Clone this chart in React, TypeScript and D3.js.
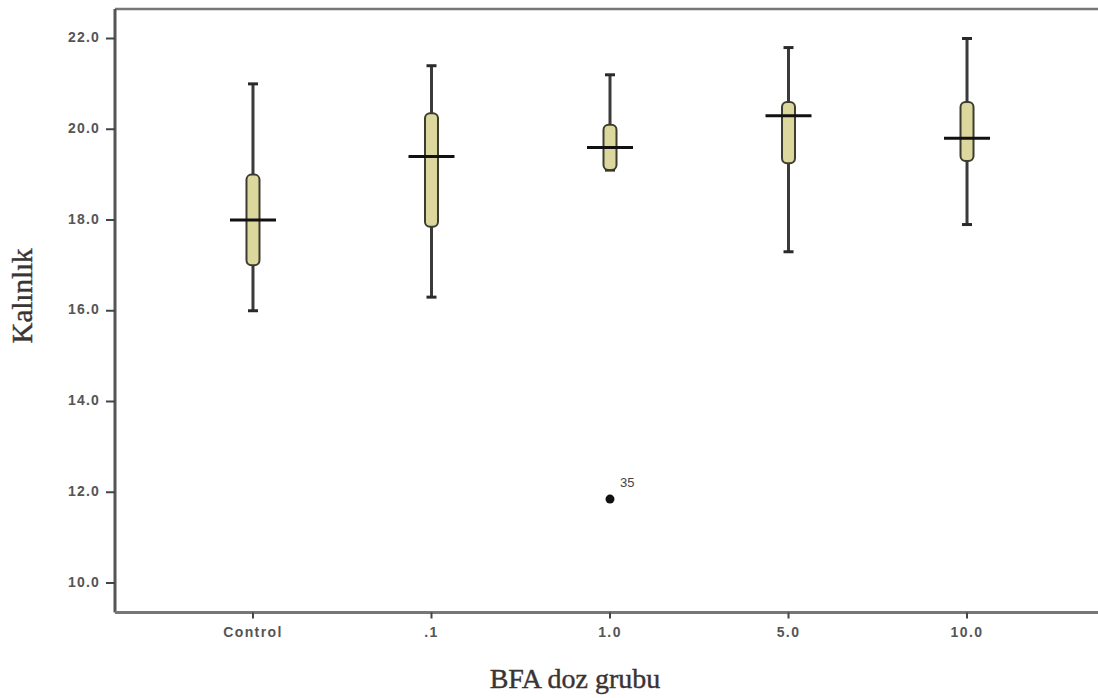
import * as d3 from 'd3';

// values (SPSS-style boxplot)
const categories = ['Control', '.1', '1.0', '5.0', '10.0'];
const whiskerLow = [16.0, 16.3, 19.1, 17.3, 17.9];
const q1 = [17.0, 17.85, 19.1, 19.25, 19.3];
const median = [18.0, 19.4, 19.6, 20.3, 19.8];
const q3 = [19.0, 20.35, 20.1, 20.6, 20.6];
const whiskerHigh = [21.0, 21.4, 21.2, 21.8, 22.0];
const outlierGroups = ['1.0'];
const outlierValues = [11.85];
const outlierLabels = ['35'];
const yTicks = [10, 12, 14, 16, 18, 20, 22];

const WIDTH = 1098;
const HEIGHT = 698;
const PLOT = { left: 115, right: 1105, top: 9, bottom: 612.5 };
const SANS = 'Liberation Sans, Arial, sans-serif';
const SERIF = 'Liberation Serif, Times New Roman, serif';

export default function App() {
  const xScale = d3
    .scalePoint<string>()
    .domain(categories)
    .range([PLOT.left, PLOT.right])
    .padding(0.773);

  const yScale = d3.scaleLinear().domain([9.35, 22.65]).range([PLOT.bottom, PLOT.top]);

  const boxW = 13;
  const medianW = 46;
  const capW = 10;

  const boxes = categories.map((c, i) => {
    const cx = xScale(c) ?? 0;
    const yTop = yScale(q3[i]);
    const yBot = yScale(q1[i]);
    return (
      <g key={c}>
        {/* whiskers */}
        <line x1={cx} x2={cx} y1={yScale(whiskerHigh[i])} y2={yTop} stroke="#3a3a3a" strokeWidth={3} />
        <line x1={cx} x2={cx} y1={yBot} y2={yScale(whiskerLow[i])} stroke="#3a3a3a" strokeWidth={3} />
        <line x1={cx - capW / 2} x2={cx + capW / 2} y1={yScale(whiskerHigh[i])} y2={yScale(whiskerHigh[i])} stroke="#2a2a2a" strokeWidth={3} />
        <line x1={cx - capW / 2} x2={cx + capW / 2} y1={yScale(whiskerLow[i])} y2={yScale(whiskerLow[i])} stroke="#2a2a2a" strokeWidth={3} />
        {/* box */}
        <rect
          x={cx - boxW / 2}
          y={yTop}
          width={boxW}
          height={Math.max(yBot - yTop, 2)}
          rx={5}
          fill="#dcd79c"
          stroke="#3c3c30"
          strokeWidth={2}
        />
        {/* median */}
        <line
          x1={cx - medianW / 2}
          x2={cx + medianW / 2}
          y1={yScale(median[i])}
          y2={yScale(median[i])}
          stroke="#111"
          strokeWidth={3}
        />
      </g>
    );
  });

  const outliers = outlierGroups.map((g, i) => {
    const cx = xScale(g) ?? 0;
    const cy = yScale(outlierValues[i]);
    return (
      <g key={i}>
        <circle cx={cx} cy={cy} r={4.5} fill="#111" />
        <text x={cx + 10} y={cy - 12} fontSize={13} fill="#444" fontFamily={SANS}>
          {outlierLabels[i]}
        </text>
      </g>
    );
  });

  const yLabels = yTicks.map(t => (
    <g key={t}>
      <line x1={PLOT.left - 9} x2={PLOT.left} y1={yScale(t)} y2={yScale(t)} stroke="#444" strokeWidth={2} />
      <text
        x={PLOT.left - 15}
        y={yScale(t)}
        textAnchor="end"
        dominantBaseline="middle"
        fontSize={14}
        fontWeight="bold"
        letterSpacing={1.2}
        fill="#555"
        fontFamily={SANS}
      >
        {d3.format('.1f')(t)}
      </text>
    </g>
  ));

  const xLabels = categories.map(c => (
    <g key={c}>
      <line x1={xScale(c)} x2={xScale(c)} y1={PLOT.bottom} y2={PLOT.bottom + 6} stroke="#444" strokeWidth={2} />
      <text
        x={xScale(c)}
        y={PLOT.bottom + 21}
        textAnchor="middle"
        dominantBaseline="middle"
        fontSize={14}
        fontWeight="bold"
        letterSpacing={1.4}
        fill="#555"
        fontFamily={SANS}
      >
        {c}
      </text>
    </g>
  ));

  return (
    <svg width={WIDTH} height={HEIGHT} style={{ position: 'absolute', left: 0, top: 0, background: '#fff' }}>
      <rect x={0} y={0} width={WIDTH} height={HEIGHT} fill="#fff" />
      {/* frame */}
      <line x1={PLOT.left} x2={WIDTH} y1={PLOT.top} y2={PLOT.top} stroke="#777" strokeWidth={2.5} />
      <line x1={PLOT.left} x2={PLOT.left} y1={PLOT.top} y2={PLOT.bottom} stroke="#555" strokeWidth={3} />
      <line x1={PLOT.left} x2={WIDTH} y1={PLOT.bottom} y2={PLOT.bottom} stroke="#777" strokeWidth={3} />
      {yLabels}
      {xLabels}
      {boxes}
      {outliers}
      <text
        transform={`translate(32, 296) rotate(-90)`}
        textAnchor="middle"
        fontSize={29}
        fill="#3a3434"
        stroke="#3a3434"
        strokeWidth={0.4}
        fontFamily={SERIF}
      >
        Kalınlık
      </text>
      <text
        x={575}
        y={688}
        textAnchor="middle"
        fontSize={28}
        fill="#3a3434"
        stroke="#3a3434"
        strokeWidth={0.4}
        fontFamily={SERIF}
      >
        BFA doz grubu
      </text>
    </svg>
  );
}
